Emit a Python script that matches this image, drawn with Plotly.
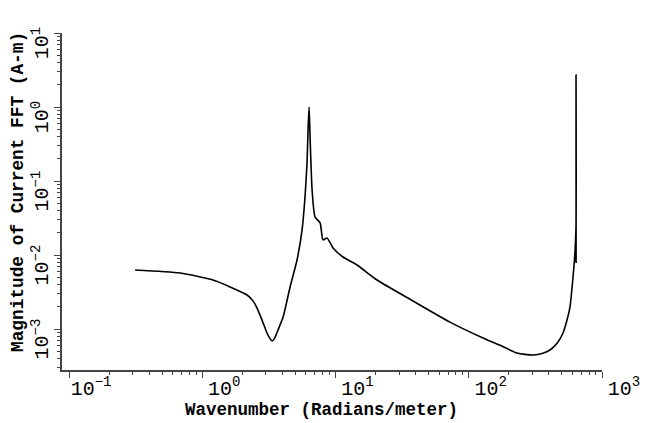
import plotly.graph_objects as go

# Wavenumber (rad/m) and magnitude of current FFT (A-m)
wavenumber = [0.313, 0.681, 1.205, 1.616, 2.168, 2.40, 2.576, 2.807, 3.06, 3.20, 3.34, 3.50, 3.70,
              4.04, 4.56, 5.14, 5.61, 5.90, 6.11, 6.22, 6.33, 6.44, 6.67,
              7.02, 7.66, 8.05, 8.63, 9.58, 11.38, 14.5, 20.5, 38.2, 72.3,
              128, 180, 230, 303, 360, 407, 460, 510, 545, 575, 606, 625, 638, 638.5, 639]
magnitude = [0.00627, 0.00571, 0.00459, 0.00370, 0.00288, 0.00240, 0.00192, 0.00132, 0.000883, 0.000760, 0.000689, 0.000760, 0.000968,
             0.00145, 0.00370, 0.00855, 0.0218, 0.0608, 0.175, 0.489, 1.0, 0.393, 0.0755,
             0.0327, 0.0271, 0.0160, 0.0170, 0.01245, 0.0094, 0.00733, 0.00459, 0.00239, 0.00124,
             0.000755, 0.000580, 0.000474, 0.000445, 0.000470, 0.000520, 0.000640, 0.000883, 0.00130, 0.00198, 0.00505, 0.0100, 0.0239, 2.70, 0.0078]

x_ticks = [0.1, 1, 10, 100, 1000]
x_ticktext = ["10<sup>−1</sup>", "10<sup>0</sup>", "10<sup>1</sup>", "10<sup>2</sup>", "10<sup>3</sup>"]
y_ticks = [0.001, 0.01, 0.1, 1, 10]
y_ticktext = ["10<sup>−3</sup>", "10<sup>−2</sup>", "10<sup>−1</sup>", "10<sup>0</sup>", "10<sup>1</sup>"]
x_title = "Wavenumber (Radians/meter)"
y_title = "Magnitude of Current FFT (A-m)"

def minor_vals(lo, hi):
    out = []
    for e in range(lo, hi):
        for d in range(2, 10):
            out.append(d * 10 ** e)
    return out

FONT = "Liberation Mono"
AX = "#444444"

fig = go.Figure()
fig.add_trace(go.Scatter(x=wavenumber, y=magnitude, mode="lines", line_shape="spline",
                         line=dict(color="black", width=1.6, smoothing=0.6), showlegend=False))

fig.update_layout(
    width=648, height=423,
    margin=dict(l=62, r=46, t=33, b=53),
    paper_bgcolor="white", plot_bgcolor="white",
    font=dict(family=FONT, color="black"),
)
fig.update_xaxes(
    type="log", range=[-1.053, 3.0], automargin=False,
    showgrid=False, zeroline=False,
    showline=True, linecolor=AX, linewidth=1.5,
    tickmode="array", tickvals=x_ticks, ticktext=x_ticktext,
    ticks="outside", ticklen=6, tickcolor=AX, tickwidth=1.2,
    ticklabelshift=22, ticklabelstandoff=-7,
    tickfont=dict(family=FONT, size=20, color="black"),
    minor=dict(tickmode="array", tickvals=minor_vals(-1, 3), ticks="outside",
               ticklen=3, tickcolor=AX, tickwidth=1.2),
)
fig.update_yaxes(
    type="log", range=[-3.554, 1.0], automargin=False,
    showgrid=False, zeroline=False,
    showline=True, linecolor=AX, linewidth=1.5,
    tickmode="array", tickvals=y_ticks, ticktext=y_ticktext,
    ticks="outside", ticklen=6, tickcolor=AX, tickwidth=1.2,
    tickangle=-90, ticklabelshift=13, ticklabelstandoff=-2,
    tickfont=dict(family=FONT, size=20, color="black"),
    minor=dict(tickmode="array", tickvals=minor_vals(-4, 1), ticks="outside",
               ticklen=3, tickcolor=AX, tickwidth=1.2),
)

fig.add_annotation(text="<b>" + x_title + "</b>", xref="paper", yref="paper",
                   x=(321 - 62) / 540, y=-(410 - 370) / 337, xanchor="center", yanchor="middle",
                   showarrow=False, font=dict(family=FONT, size=17.5, color="black"))
fig.add_annotation(text="<b>" + y_title + "</b>", xref="paper", yref="paper",
                   x=-(62 - 18) / 540, y=(370 - 192) / 337, xanchor="center", yanchor="middle",
                   textangle=-90, showarrow=False, font=dict(family=FONT, size=17.8, color="black"))

fig.write_html("out.html")
